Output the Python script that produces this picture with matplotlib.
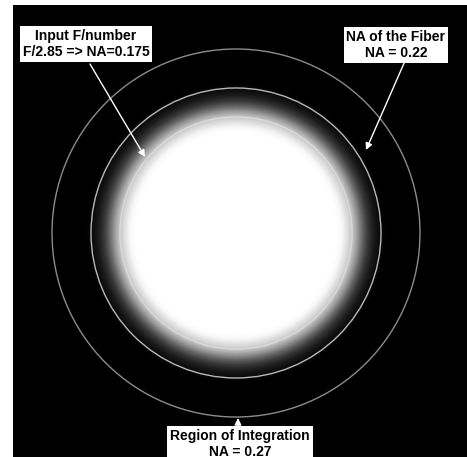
import numpy as np
import matplotlib
matplotlib.use("Agg")
from matplotlib import pyplot as plt
from matplotlib.patches import Circle

# radial brightness of the fiber output spot (pixels from centre -> grey level)
glow_radius = [0, 100, 106, 112, 117, 122, 127, 132, 138, 145, 150]
glow_level = [1.0, 1.0, 0.97, 0.86, 0.76, 0.58, 0.38, 0.22, 0.1, 0.03, 0.0]

# overlay rings (radius in pixels, grey level)
ring_na = [0.175, 0.22, 0.27]
ring_radius = [116, 145, 184]
ring_grey = [0.85, 0.72, 0.55]

labels = ["Input F/number\nF/2.85 => NA=0.175",
          "NA of the Fiber\nNA = 0.22",
          "Region of Integration\nNA = 0.27"]

W, H = 467, 457
cx, cy = 236, 233

fig = plt.figure(figsize=(W / 100, H / 100), dpi=100)
fig.patch.set_facecolor("white")
ax = fig.add_axes([13 / W, 0, (W - 13) / W, (H - 5) / H])
ax.set_facecolor("black")
ax.set_xlim(13 - cx, W - cx)
ax.set_ylim(H - cy, 5 - cy)
ax.set_axis_off()

# spot image
xs = np.arange(13 - cx, W - cx) + 0.5
ys = np.arange(5 - cy, H - cy) + 0.5
X, Y = np.meshgrid(xs, ys)
R = np.hypot(X, Y)
img = np.interp(R, glow_radius, glow_level)
ax.imshow(img, cmap="gray", vmin=0, vmax=1, interpolation="bilinear",
          extent=(13 - cx, W - cx, H - cy, 5 - cy), zorder=1)

for r, g in zip(ring_radius, ring_grey):
    ax.add_patch(Circle((0, 0), r, fill=False, edgecolor=str(g), lw=1.0, zorder=2))

plt.rcParams["font.family"] = ["Liberation Sans", "DejaVu Sans"]
box = dict(boxstyle="square,pad=0.2", facecolor="white", edgecolor="none")
txt = dict(fontsize=10, fontweight="bold", ha="center", va="center",
           linespacing=1.25, bbox=box, zorder=5)
arrow = dict(arrowstyle="-|>", color="white", lw=1.0, mutation_scale=10,
             shrinkA=0, shrinkB=0)

ax.text(86 - cx, 44 - cy, labels[0], **txt)
ax.annotate("", xy=(145 - cx, 157 - cy), xytext=(90 - cx, 64 - cy),
            arrowprops=arrow, zorder=4)

ax.text(396 - cx, 45 - cy, labels[1], **txt)
ax.annotate("", xy=(366 - cx, 150 - cy), xytext=(405 - cx, 61 - cy),
            arrowprops=arrow, zorder=4)

ax.text(240 - cx, 444 - cy, labels[2], **txt)
ax.annotate("", xy=(238 - cx, 418 - cy), xytext=(238 - cx, 429 - cy),
            arrowprops=arrow, zorder=4)

fig.savefig("out.png", dpi=100, facecolor="white")
